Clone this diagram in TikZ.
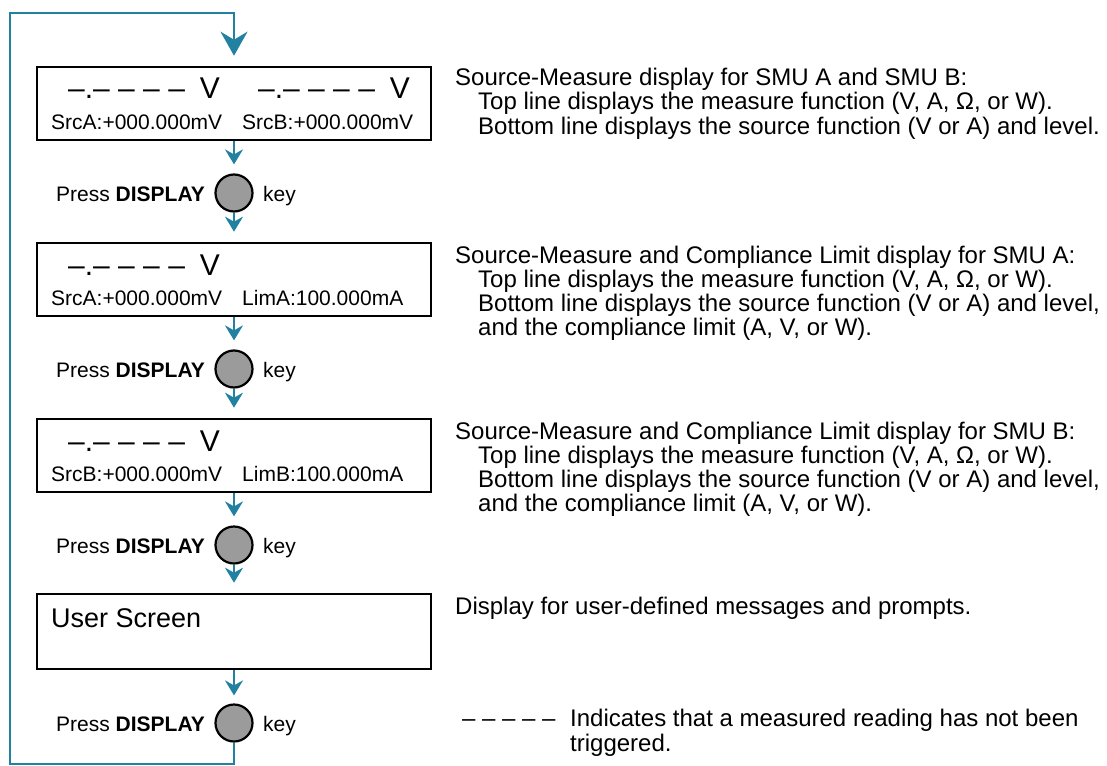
\documentclass[tikz,border=0pt]{standalone}
\usepackage{fontspec}
\setmainfont{Liberation Sans}
\usetikzlibrary{arrows.meta}
\definecolor{flowteal}{RGB}{34,128,160}
\definecolor{keygray}{RGB}{155,155,155}
\newcommand\dashrow{–.– – – –\hspace{0.5em}V}
\begin{document}
\begin{tikzpicture}[x=1pt,y=-1pt,
  dispbox/.style={draw=black,line width=2.6pt,minimum width=394pt,inner sep=0pt},
  keycirc/.style={circle,draw=black,line width=2.2pt,fill=keygray,minimum size=37pt,inner sep=0pt},
  flow/.style={draw=flowteal,line width=2.2pt},
  smalltip/.style={-{Stealth[length=15pt,width=18pt,inset=5pt]}},
  bigtip/.style={-{Stealth[length=24pt,width=27pt,inset=8pt]}},
  bigtxt/.style={anchor=base west,inner sep=0pt,font=\fontsize{30}{30}\selectfont},
  lcdtxt/.style={anchor=base west,inner sep=0pt,font=\fontsize{21}{21}\selectfont},
  usrtxt/.style={anchor=base west,inner sep=0pt,font=\fontsize{27}{27}\selectfont},
  desc/.style={anchor=base west,inner sep=0pt,font=\fontsize{24}{24}\selectfont},
  presstxt/.style={anchor=base east,inner sep=0pt,font=\fontsize{21}{21}\selectfont},
  keytxt/.style={anchor=base west,inner sep=0pt,font=\fontsize{21}{21}\selectfont},
]
\useasboundingbox (0,0) rectangle (1107,765);

% display boxes
\node[dispbox,minimum height=73pt] (b1) at (234,103.5) {};
\node[dispbox,minimum height=73pt] (b2) at (234,279.5) {};
\node[dispbox,minimum height=73pt] (b3) at (234,455.5) {};
\node[dispbox,minimum height=75pt] (b4) at (234,631.5) {};

% keys
\node[keycirc] (k1) at (234,193) {};
\node[keycirc] (k2) at (234,369) {};
\node[keycirc] (k3) at (234,545) {};
\node[keycirc] (k4) at (234,723) {};

% box contents
\node[bigtxt] (b1t1) at (68,99) {\dashrow};
\node[bigtxt] (b1t2) at (258,99) {\dashrow};
\node[lcdtxt] (b1s1) at (51,129) {SrcA:+000.000mV};
\node[lcdtxt] (b1s2) at (242,129) {SrcB:+000.000mV};

\node[bigtxt] (b2t1) at (68,275) {\dashrow};
\node[lcdtxt] (b2s1) at (51,305) {SrcA:+000.000mV};
\node[lcdtxt] (b2s2) at (242,305) {LimA:100.000mA};

\node[bigtxt] (b3t1) at (68,451) {\dashrow};
\node[lcdtxt] (b3s1) at (51,481) {SrcB:+000.000mV};
\node[lcdtxt] (b3s2) at (242,481) {LimB:100.000mA};

\node[usrtxt] (b4t) at (51,627) {User Screen};

% press labels
\node[presstxt] (p1) at (205,201) {Press \textbf{DISPLAY}};
\node[keytxt] (q1) at (263,201) {key};
\node[presstxt] (p2) at (205,377) {Press \textbf{DISPLAY}};
\node[keytxt] (q2) at (263,377) {key};
\node[presstxt] (p3) at (205,553) {Press \textbf{DISPLAY}};
\node[keytxt] (q3) at (263,553) {key};
\node[presstxt] (p4) at (205,731) {Press \textbf{DISPLAY}};
\node[keytxt] (q4) at (263,731) {key};

% connectors
\draw[flow,smalltip,shorten >=9pt] (b1.south) -- (k1.north);
\draw[flow,smalltip,shorten >=10pt] (k1.south) -- (b2.north);
\draw[flow,smalltip,shorten >=9pt] (b2.south) -- (k2.north);
\draw[flow,smalltip,shorten >=10pt] (k2.south) -- (b3.north);
\draw[flow,smalltip,shorten >=9pt] (b3.south) -- (k3.north);
\draw[flow,smalltip,shorten >=10pt] (k3.south) -- (b4.north);
\draw[flow,smalltip,shorten >=8pt] (b4.south) -- (k4.north);
\coordinate (lb) at (10,764);
\coordinate (lt) at (10,13);
\draw[flow,bigtip,shorten >=10pt] (k4.south) |- (lb) -- (lt) -| (b1.north);

% descriptions
\node[desc] (d1a) at (455,86) {Source-Measure display for SMU A and SMU B:};
\node[desc] (d1b) at (478,110) {Top line displays the measure function (V, A, Ω, or W).};
\node[desc] (d1c) at (478,134) {Bottom line displays the source function (V or A) and level.};

\node[desc] (d2a) at (455,263) {Source-Measure and Compliance Limit display for SMU A:};
\node[desc] (d2b) at (478,287) {Top line displays the measure function (V, A, Ω, or W).};
\node[desc] (d2c) at (478,311) {Bottom line displays the source function (V or A) and level,};
\node[desc] (d2d) at (478,335) {and the compliance limit (A, V, or W).};

\node[desc] (d3a) at (455,439) {Source-Measure and Compliance Limit display for SMU B:};
\node[desc] (d3b) at (478,463) {Top line displays the measure function (V, A, Ω, or W).};
\node[desc] (d3c) at (478,487) {Bottom line displays the source function (V or A) and level,};
\node[desc] (d3d) at (478,511) {and the compliance limit (A, V, or W).};

\node[desc] (d4a) at (455,614) {Display for user-defined messages and prompts.};

% legend
\node[desc] (lg) at (462,726) {– – – – –};
\node[desc] (lt1) at (570,726) {Indicates that a measured reading has not been};
\node[desc] (lt2) at (570,751) {triggered.};
\end{tikzpicture}
\end{document}
